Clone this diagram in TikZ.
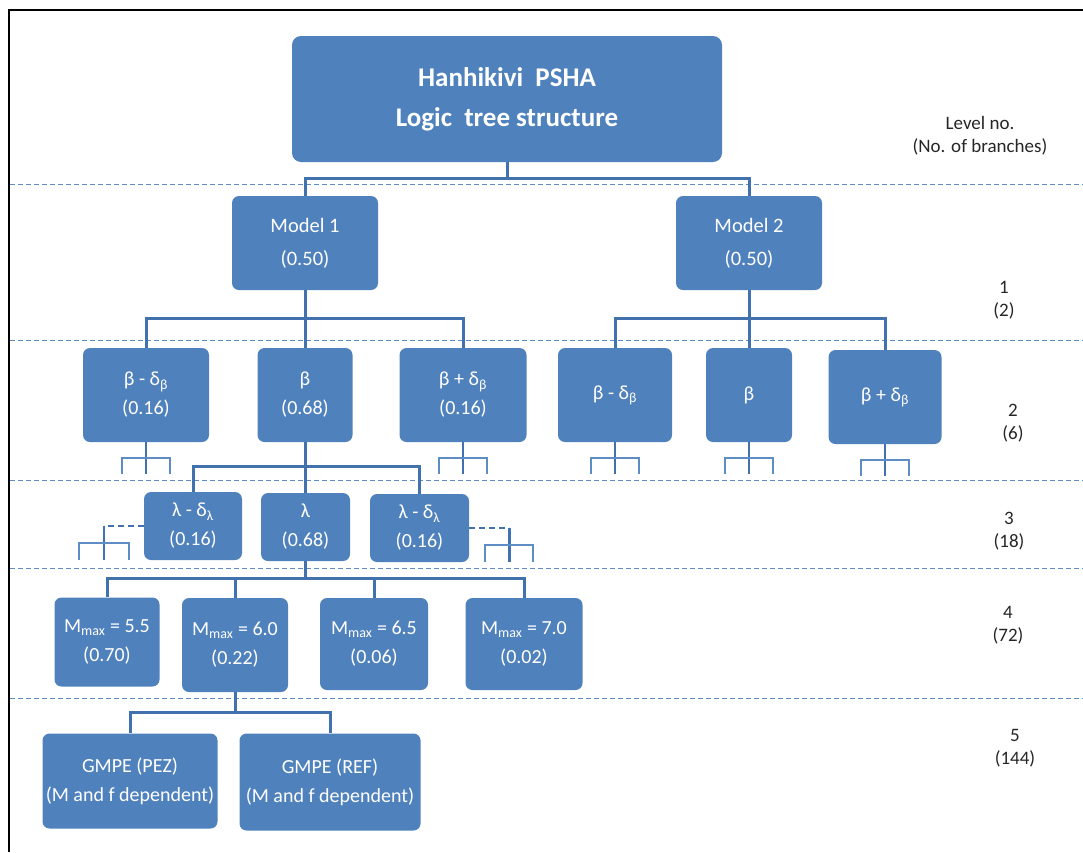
\documentclass[tikz,border=0pt]{standalone}
\usepackage{fontspec}
\setmainfont{Carlito}
\usetikzlibrary{positioning,calc}
\definecolor{treeblue}{HTML}{4F81BD}
\definecolor{treeline}{HTML}{4172AE}
\definecolor{treesep}{HTML}{5E8DC6}
\definecolor{treetext}{HTML}{262626}
\tikzset{
  tbox/.style={rounded corners=7pt, fill=treeblue, draw=none, text=white,
               align=center, inner sep=0pt, font=\fontsize{20}{29}\selectfont},
  tconn/.style={draw=treeline, line width=3pt},
  tstub/.style={draw=treesep, line width=1.6pt},
  tstubmid/.style={draw=treeline, line width=2.6pt},
  tstubdash/.style={draw=treeline, line width=1.4pt, dash pattern=on 6pt off 4pt},
  tsep/.style={draw=treesep, line width=1pt, dash pattern=on 5pt off 3pt},
  tlevel/.style={align=center, text=treetext, font=\fontsize{19}{23}\selectfont},
}

\begin{document}
\begin{tikzpicture}[x=1pt,y=-1pt]
\useasboundingbox (0,0) rectangle (1083,852);
\draw[line width=2pt] (9,852) -- (9,10) -- (1083,10);
% separators between levels
\foreach \yy in {184,340,480,568,698}
  \draw[tsep] (10,\yy) -- (1083,\yy);
% level 0
\node[tbox,minimum width=430pt,minimum height=126pt,rounded corners=9pt,
      font=\fontsize{27}{40}\selectfont\bfseries] (top) at (507,99)
      {Hanhikivi\ \ PSHA\\Logic\ \ tree structure};
% level 1
\node[tbox,minimum width=146pt,minimum height=94pt,font=\fontsize{20.5}{33}\selectfont] (m1) at (305,243) {Model 1\\(0.50)};
\node[tbox,minimum width=146pt,minimum height=94pt,font=\fontsize{20.5}{33}\selectfont] (m2) at (749,243) {Model 2\\(0.50)};
% level 2
\node[tbox,minimum width=126pt,minimum height=94pt] (bl1) at (146,395) {β - δ\textsubscript{β}\\(0.16)};
\node[tbox,minimum width=95pt,minimum height=94pt] (bl2) at (305,395) {β\\(0.68)};
\node[tbox,minimum width=127pt,minimum height=94pt] (bl3) at (463,395) {β + δ\textsubscript{β}\\(0.16)};
\node[tbox,minimum width=114pt,minimum height=94pt] (br1) at (615,395) {β - δ\textsubscript{β}};
\node[tbox,minimum width=86pt,minimum height=94pt] (br2) at (749,395) {β};
\node[tbox,minimum width=113pt,minimum height=94pt] (br3) at (885,397) {β + δ\textsubscript{β}};
% level 3
\node[tbox,minimum width=98pt,minimum height=68pt] (l1) at (193,526) {λ - δ\textsubscript{λ}\\(0.16)};
\node[tbox,minimum width=89pt,minimum height=68pt] (l2) at (305.5,527) {λ\\(0.68)};
\node[tbox,minimum width=99pt,minimum height=68pt] (l3) at (419.5,528) {λ - δ\textsubscript{λ}\\(0.16)};
% level 4
\node[tbox,minimum width=105pt,minimum height=89pt] (mx1) at (107,642) {M\textsubscript{max} = 5.5\\(0.70)};
\node[tbox,minimum width=106pt,minimum height=94pt] (mx2) at (235,645) {M\textsubscript{max} = 6.0\\(0.22)};
\node[tbox,minimum width=108pt,minimum height=92pt] (mx3) at (374,644) {M\textsubscript{max} = 6.5\\(0.06)};
\node[tbox,minimum width=117pt,minimum height=92pt] (mx4) at (524,644) {M\textsubscript{max} = 7.0\\(0.02)};
% level 5
\node[tbox,minimum width=175pt,minimum height=95pt] (g1) at (130,781) {GMPE (PEZ)\\(M and f dependent)};
\node[tbox,minimum width=181pt,minimum height=97pt] (g2) at (330,782) {GMPE (REF)\\(M and f dependent)};
% level numbers
\node[tlevel] (lv0) at (980,136) {Level no.\\(No. of branches)};
\node[tlevel] (lv1) at (1004,300) {1\\(2)};
\node[tlevel] (lv2) at (1013,423) {2\\(6)};
\node[tlevel] (lv3) at (1009,531) {3\\(18)};
\node[tlevel] (lv4) at (1008,625) {4\\(72)};
\node[tlevel] (lv5) at (1015,748) {5\\(144)};
% branches
\foreach \n in {m1,m2} \draw[tconn] (top.south) -- ++(0,16) -| (\n.north);
\foreach \n in {bl1,bl2,bl3} \draw[tconn] (m1.south) -- ++(0,28) -| (\n.north);
\foreach \n in {br1,br2,br3} \draw[tconn] (m2.south) -- ++(0,28) -| (\n.north);
\foreach \n in {l1,l2,l3} \draw[tconn] (bl2.south) -- ++(0,24) -| (\n.north);
\foreach \n in {mx1,mx2,mx3,mx4} \draw[tconn] (l2.south) -- ++(0,17) -| (\n.north);
\foreach \n in {g1,g2} \draw[tconn] (mx2.south) -- ++(0,20) -| (\n.north);
% cut-off branches
\foreach \n in {bl1,bl3,br1,br2,br3} {
  \draw[tstubmid] (\n.south) -- ++(0,32);
  \draw[tstub] (\n.south) ++(-24,32) -- ++(0,-16) -- ++(48,0) -- ++(0,16);
}
\draw[tstubdash] (l1.west) -- ++(-40,0) coordinate (q1);
\draw[tstubmid] (q1) -- ++(0,34);
\draw[tstub] (q1) ++(-25,34) -- ++(0,-17) -- ++(50,0) -- ++(0,17);
\draw[tstubdash] (l3.east) -- ++(40,0) coordinate (q3);
\draw[tstubmid] (q3) -- ++(0,34);
\draw[tstub] (q3) ++(-24,34) -- ++(0,-17) -- ++(48,0) -- ++(0,17);
\end{tikzpicture}
\end{document}
